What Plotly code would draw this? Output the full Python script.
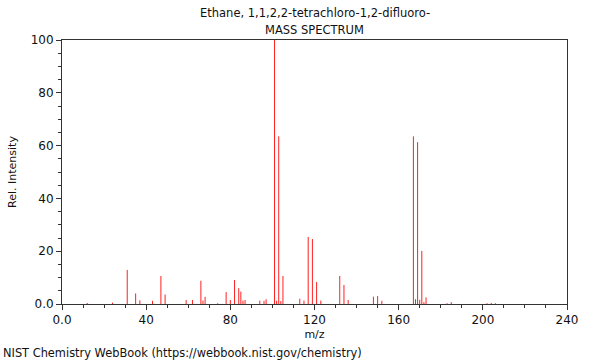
import plotly.graph_objects as go

mz = [12, 24, 31, 35, 37, 43, 47, 49, 59, 62, 66, 67, 68, 74, 78, 80, 82, 84, 85, 86, 87,
      94, 96, 97, 101, 102, 103, 104, 105, 113, 115, 117, 119, 121, 123, 132, 134, 136,
      148, 150, 152, 167, 168, 169, 170, 171, 172, 173, 183, 185, 202, 204, 206]
intensity = [0.4, 0.5, 12.9, 4.0, 1.4, 1.2, 10.6, 3.6, 1.5, 1.5, 8.8, 1.3, 2.7, 0.3, 4.5, 1.5,
             9.1, 6.0, 4.7, 1.3, 1.5, 1.3, 1.2, 1.8, 100, 1.2, 63.5, 1.1, 10.6, 2.0, 1.3,
             25.4, 24.6, 8.3, 1.3, 10.6, 7.2, 1.5, 2.8, 3.0, 1.2, 63.5, 1.8, 61.3, 1.6, 20.1,
             0.7, 2.5, 0.3, 0.7, 0.3, 0.4, 0.3]

x_ticks = [0, 40, 80, 120, 160, 200, 240]
x_ticktext = ["0.0", "40", "80", "120", "160", "200", "240"]
y_ticks = [0, 20, 40, 60, 80, 100]
y_ticktext = ["0.0", "20", "40", "60", "80", "100"]

title_line1 = "Ethane, 1,1,2,2-tetrachloro-1,2-difluoro-"
title_line2 = "MASS SPECTRUM"
footer = "NIST Chemistry WebBook (https://webbook.nist.gov/chemistry)"

xs, ys = [], []
for m, h in zip(mz, intensity):
    xs += [m, m, None]
    ys += [0, h, None]

fig = go.Figure()
fig.add_trace(go.Scatter(x=xs, y=ys, mode="lines",
                         line=dict(color="#ff2020", width=1), hoverinfo="skip",
                         showlegend=False))

font = "DejaVu Sans, sans-serif"
axis_common = dict(showgrid=False, zeroline=False, showline=True, linecolor="#333",
                   linewidth=1, mirror=True, ticks="outside", ticklen=5, tickcolor="#333",
                   tickfont=dict(family=font, size=12, color="#111"))

fig.update_xaxes(range=[0, 240], tickvals=x_ticks, ticktext=x_ticktext,
                 minor=dict(dtick=10, ticklen=3, ticks="outside", tickcolor="#333"),
                 title=dict(text="m/z", font=dict(family=font, size=11, color="#111"),
                            standoff=3),
                 **axis_common)
fig.update_yaxes(range=[0, 100], tickvals=y_ticks, ticktext=y_ticktext,
                 minor=dict(dtick=5, ticklen=3, ticks="outside", tickcolor="#333"),
                 title=dict(text="Rel. Intensity", font=dict(family=font, size=11, color="#111"),
                            standoff=11),
                 **axis_common)

fig.update_layout(
    width=600, height=360,
    margin=dict(l=62, r=33, t=40, b=56),
    plot_bgcolor="white", paper_bgcolor="white",
    font=dict(family=font, size=11, color="#111"),
    annotations=[
        dict(text=title_line1, xref="paper", yref="paper", x=0.5, y=1, yshift=27,
             showarrow=False, xanchor="center", yanchor="middle",
             font=dict(family=font, size=11.5, color="#111")),
        dict(text=title_line2, xref="paper", yref="paper", x=0.5, y=1, yshift=10,
             showarrow=False, xanchor="center", yanchor="middle",
             font=dict(family=font, size=11.5, color="#111")),
        dict(text=footer, xref="paper", yref="paper", x=0, y=0, xshift=-61, yshift=-49,
             showarrow=False, xanchor="left", yanchor="middle",
             font=dict(family=font, size=11.4, color="#111")),
    ],
)

fig.write_html("out.html", config={"displayModeBar": False},
               post_script="document.body.style.margin='0';")
